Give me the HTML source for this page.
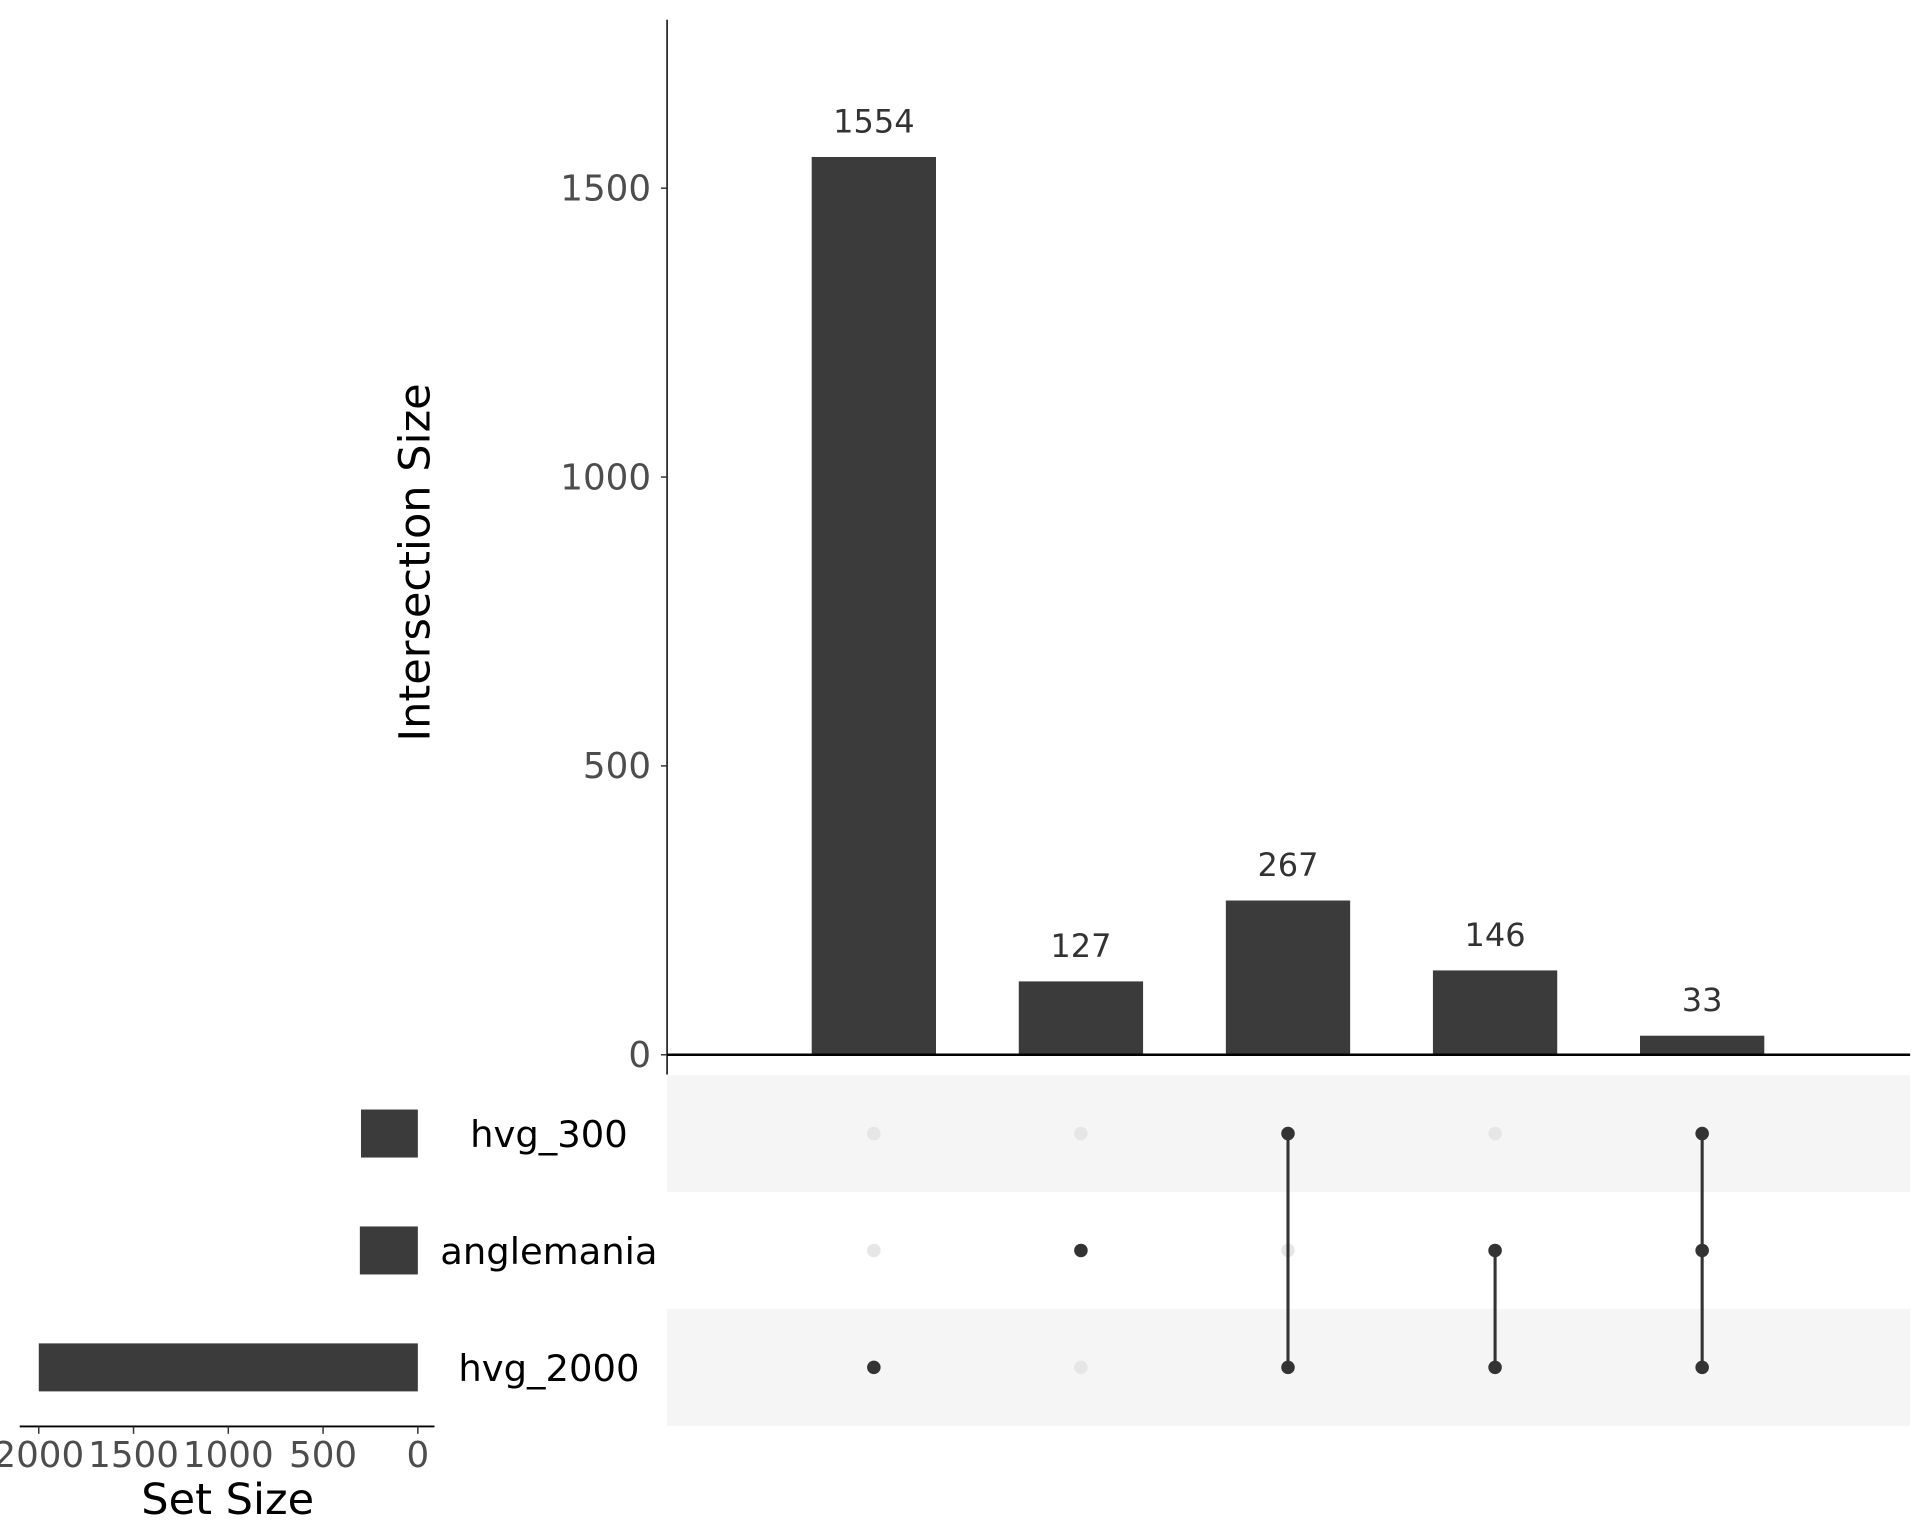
<!DOCTYPE html>
<html><head><meta charset="utf-8"><style>
html,body{margin:0;padding:0;background:#fff;}
svg{display:block;font-family:"DejaVu Sans","Liberation Sans",sans-serif;}
</style></head><body>
<svg id="chart" width="1920" height="1536" viewBox="0 0 1560 1248" xmlns="http://www.w3.org/2000/svg">
<rect x="0" y="0" width="1560" height="1248" fill="#fff"/>
<g id="main"></g>
</svg>
<script>
const intersectionValues = [1554, 127, 267, 146, 33];
const intersectionMembership = [[2], [1], [0, 2], [1, 2], [0, 1, 2]];
const setNames = ["hvg_300", "anglemania", "hvg_2000"];
const setSizes = [300, 306, 2000];
const yTicks = [0, 500, 1000, 1500];
const setTicks = [2000, 1500, 1000, 500, 0];

const NS = "http://www.w3.org/2000/svg";
const g = document.getElementById('main');
function mk(tag, attrs, parent) {
  const e = document.createElementNS(NS, tag);
  for (const k in attrs) e.setAttribute(k, attrs[k]);
  (parent || g).appendChild(e);
  return e;
}
const y0 = 857, pxPerUnit = 234.7 / 500;
const yScale = v => y0 - v * pxPerUnit;
const xCenter = i => 710 + i * 168.25;
const barW = 101;
const rowY = i => 921 + i * 95;
const sx0 = 339.5, sPx = 77 / 500;
const sScale = v => sx0 - v * sPx;

[0, 2].forEach(i => {
  const r = mk('rect', {x: 542, y: rowY(i) - 47.5, width: 1010, height: 95, fill: '#f5f5f5'});
  
  
});

let ax = mk('line', {x1: 542, y1: 16, x2: 542, y2: 873, stroke: '#000', 'stroke-width': 1.2});


yTicks.forEach(t => {
  const y = yScale(t);
  const tk = mk('line', {x1: 537, y1: y, x2: 542, y2: y, stroke: '#333', 'stroke-width': 1.2});
  
  
  const tl = mk('text', {x: 529, y: y + 10, 'text-anchor': 'end', 'font-size': 29, fill: '#4d4d4d'});
  tl.textContent = t;
  
  
});
const yt = mk('text', {x: 0, y: 0, transform: 'translate(349,457) rotate(-90)', 'text-anchor': 'middle', 'font-size': 35, fill: '#000'});
yt.textContent = 'Intersection Size';



intersectionValues.forEach((v, i) => {
  const b = mk('rect', {x: xCenter(i) - barW / 2, y: yScale(v), width: barW, height: y0 - yScale(v), fill: '#3b3b3b'});
  
  
  const l = mk('text', {x: xCenter(i), y: yScale(v) - 20, 'text-anchor': 'middle', 'font-size': 26, fill: '#333'});
  l.textContent = v;
  
  
});
ax = mk('line', {x1: 542, y1: y0, x2: 1552, y2: y0, stroke: '#000', 'stroke-width': 2});



intersectionMembership.forEach((m, i) => {
  setNames.forEach((s, r) => {
    if (!m.includes(r)) {
      const d = mk('circle', {cx: xCenter(i), cy: rowY(r), r: 5.5, fill: '#e6e6e6'});
      
      
    }
  });
  if (m.length > 1) {
    const ln = mk('line', {x1: xCenter(i), y1: rowY(Math.min(...m)), x2: xCenter(i), y2: rowY(Math.max(...m)), stroke: '#333', 'stroke-width': 2.5});
    
    
  }
  m.forEach(r => {
    const d = mk('circle', {cx: xCenter(i), cy: rowY(r), r: 5.5, fill: '#333'});
    
    
  });
});

setSizes.forEach((v, r) => {
  const b = mk('rect', {x: sScale(v), y: rowY(r) - 19.5, width: sx0 - sScale(v), height: 39, fill: '#3b3b3b'});
  
  
  const l = mk('text', {x: 446, y: rowY(r) + 11, 'text-anchor': 'middle', 'font-size': 30, fill: '#000'});
  l.textContent = setNames[r];
  
  
});
ax = mk('line', {x1: 16, y1: 1159, x2: 353, y2: 1159, stroke: '#000', 'stroke-width': 1.5});


setTicks.forEach(t => {
  const x = sScale(t);
  const tk = mk('line', {x1: x, y1: 1159, x2: x, y2: 1165, stroke: '#333', 'stroke-width': 1.2});
  
  
  const tl = mk('text', {x: x, y: 1192, 'text-anchor': 'middle', 'font-size': 29, fill: '#4d4d4d'});
  tl.textContent = t;
  
  
});
const st = mk('text', {x: 185, y: 1230, 'text-anchor': 'middle', 'font-size': 35, fill: '#000'});
st.textContent = 'Set Size';


</script>
</body></html>
